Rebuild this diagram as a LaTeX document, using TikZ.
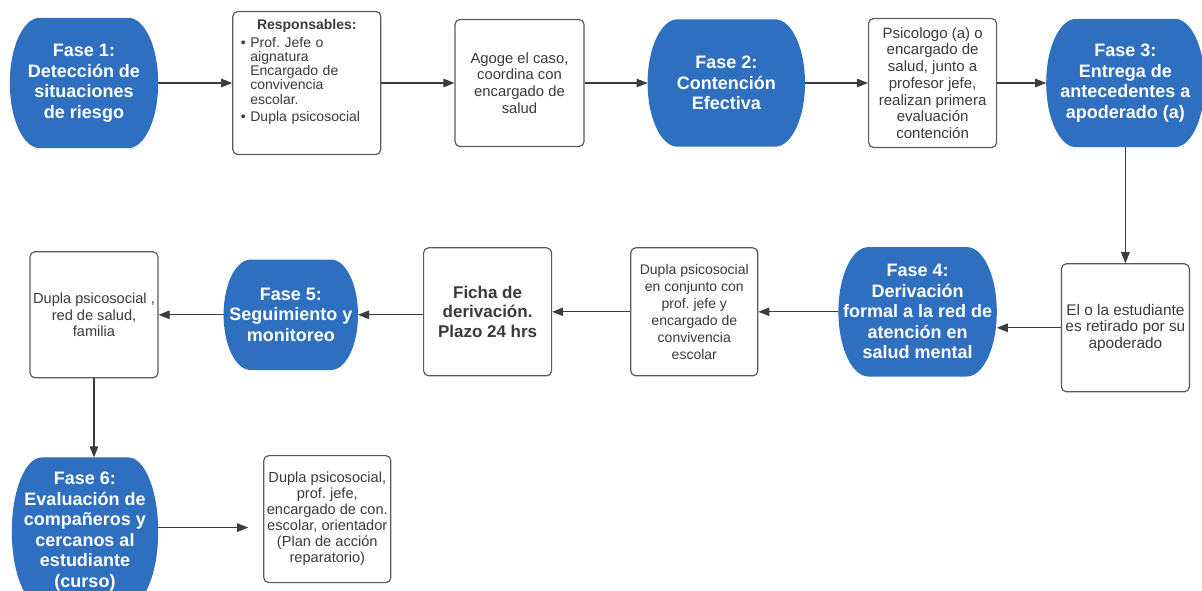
\documentclass[tikz,border=0pt]{standalone}
\usepackage{fontspec}
\setmainfont{Liberation Sans}
\usepackage{tikz}
\usetikzlibrary{positioning,arrows.meta,calc,backgrounds}
\definecolor{azulfase}{RGB}{47,111,191}
\definecolor{bordegris}{RGB}{90,90,90}
\definecolor{textogris}{RGB}{58,58,58}
\definecolor{flechagris}{RGB}{60,60,60}
\frenchspacing

\begin{document}
\begin{tikzpicture}[node distance=64pt, every node/.style={font=\fontsize{14.6}{16.5}\selectfont}]
  \tikzset{
    fase/.style={rectangle, inner sep=0pt, align=center, text=white, font=\fontsize{18}{20.5}\selectfont\bfseries, minimum width=158pt, minimum height=128pt},
    caja/.style={rectangle, draw=bordegris, line width=1.2pt, fill=white, rounded corners=5pt, text=textogris, align=center, minimum width=128pt, minimum height=128pt, inner sep=1pt},
    flecha/.style={-{Triangle[length=11pt,width=8.5pt]}, line width=1.2pt, draw=flechagris}
  }
  \useasboundingbox (0,0) rectangle (1202pt,-590pt);

  % fila superior
  \node[fase, minimum width=148pt, minimum height=130pt] (fase1) at (84pt,-83pt) {Fase 1:\\Detección de\\situaciones\\de riesgo};
  \node[caja, right=74pt of fase1, minimum width=148pt, minimum height=143pt, text width=132pt, inner xsep=8pt, align=left, font=\fontsize{14}{14.3}\selectfont] (resp) {%
    \makebox[132pt]{\textbf{Responsables:}}\\[3pt]
    \textbullet\ Prof. Jefe o\\
    \hphantom{\textbullet\ }aignatura\\
    \hphantom{\textbullet\ }Encargado de\\
    \hphantom{\textbullet\ }convivencia\\
    \hphantom{\textbullet\ }escolar.\\[3pt]
    \textbullet\ Dupla psicosocial\par\vspace{22pt}};
  \node[caja, right=73pt of resp, minimum width=129pt, minimum height=127pt, font=\fontsize{14.8}{16.7}\selectfont] (agoge) {Agoge el caso,\\coordina con\\encargado de\\salud};
  \node[fase, right=63pt of agoge, minimum width=157pt, minimum height=127pt] (fase2) {Fase 2:\\Contención\\Efectiva};
  \node[caja, right=63pt of fase2, minimum height=129pt, font=\fontsize{15}{16.7}\selectfont] (psico) {Psicologo (a) o\\encargado de\\salud, junto a\\profesor jefe,\\realizan primera\\evaluación\\contención};
  \node[fase, right=49pt of psico] (fase3) {Fase 3:\\Entrega de\\antecedentes a\\apoderado (a)};

  % fila del medio
  \node[caja, below=116pt of fase3, font=\fontsize{15.4}{16.4}\selectfont] (estud) {El o la estudiante\\es retirado por su\\apoderado};
  \node[fase, left=64pt of estud, yshift=16pt, minimum height=129pt] (fase4) {Fase 4:\\Derivación\\formal a la red de\\atención en\\salud mental};
  \node[caja, left=80pt of fase4, minimum width=127pt, font=\fontsize{14}{16.9}\selectfont] (dupconj) {Dupla psicosocial\\en conjunto con\\prof. jefe y\\encargado de\\convivencia\\escolar};
  \node[caja, left=78pt of dupconj, font=\fontsize{17}{19.5}\selectfont\bfseries] (ficha) {Ficha de\\derivación.\\Plazo 24 hrs};
  \node[fase, left=65pt of ficha, yshift=-3pt, minimum width=134pt, minimum height=110pt] (fase5) {Fase 5:\\Seguimiento y\\monitoreo};
  \node[caja, left=65pt of fase5, minimum height=126pt] (dupred) {Dupla psicosocial ,\\red de salud,\\familia};

  % fila inferior
  \node[fase, below=79pt of dupred, xshift=-9pt, minimum width=146pt, minimum height=148pt] (fase6) {Fase 6:\\Evaluación de\\compañeros y\\cercanos al\\estudiante\\(curso)};
  \node[caja, right=105pt of fase6, yshift=12.5pt, minimum width=127pt, minimum height=127pt, font=\fontsize{14.6}{16}\selectfont] (plan) {Dupla psicosocial,\\prof. jefe,\\encargado de con.\\escolar, orientador\\(Plan de acción\\reparatorio)};

  % fondo de las fases
  \begin{scope}[on background layer]
    \clip (0,0) rectangle (1202pt,-590pt);
    \foreach \f/\rx in {fase1/30,fase2/30,fase3/30,fase4/30,fase5/27,fase6/30}
      \fill[azulfase] let \p1=(\f.north west), \p2=(\f.south east) in
        (\x1+\rx pt,\y1) -- (\x2-\rx pt,\y1)
        arc[start angle=90, end angle=-90, x radius=\rx pt, y radius={(\y1-\y2)/2}]
        -- (\x1+\rx pt,\y2)
        arc[start angle=270, end angle=90, x radius=\rx pt, y radius={(\y1-\y2)/2}] -- cycle;
  \end{scope}

  % flechas
  \draw[flecha] (fase1) -- (resp);
  \draw[flecha] (resp) -- (agoge);
  \draw[flecha] (agoge) -- (fase2);
  \draw[flecha] (fase2) -- (psico);
  \draw[flecha] (psico) -- (fase3);
  \draw[flecha] (fase3) -- (estud);
  \draw[flecha] (estud.west) -- (estud.west -| fase4.east);
  \draw[flecha] (fase4) -- (dupconj);
  \draw[flecha] (dupconj) -- (ficha);
  \draw[flecha] (fase5.east -| ficha.west) -- (fase5.east);
  \draw[flecha] (fase5) -- (dupred);
  \draw[flecha] (dupred.south) -- (dupred.south |- fase6.north);
  \draw[flecha, shorten >=15pt] ([yshift=4pt]fase6.east) -- ([yshift=4pt]fase6.east -| plan.west);
\end{tikzpicture}
\end{document}
